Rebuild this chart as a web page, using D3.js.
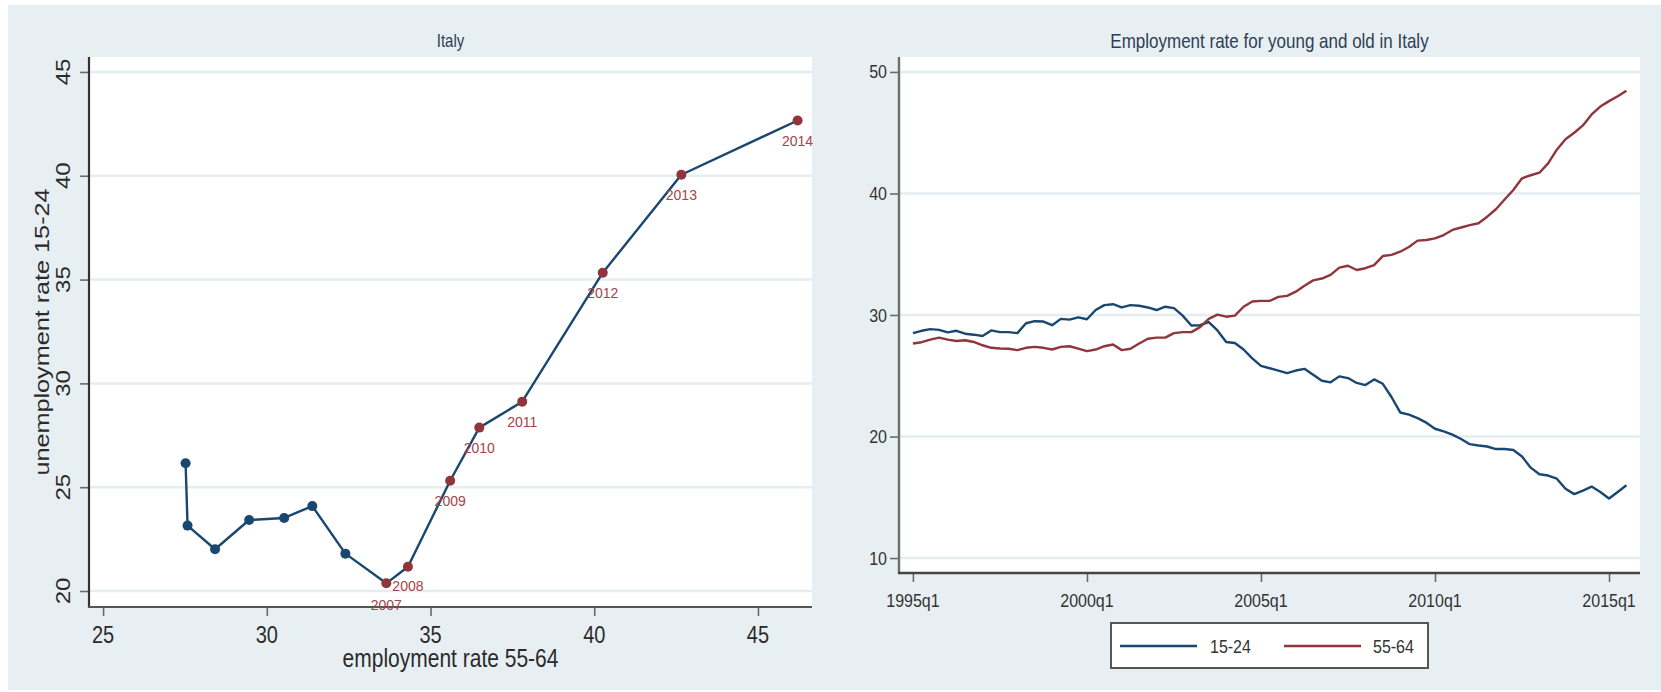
<!DOCTYPE html>
<html>
<head>
<meta charset="utf-8">
<script src="https://cdn.jsdelivr.net/npm/d3@7"></script>
<style>
  html, body { margin: 0; padding: 0; background: #ffffff; }
  svg { display: block; font-family: "Liberation Sans", Arial, sans-serif; }
</style>
</head>
<body>
<svg id="chart" width="1661" height="692"></svg>
<script>
// ---- Left panel: yearly employment 55-64 vs unemployment 15-24 ----
const years = [2000, 2001, 2002, 2003, 2004, 2005, 2006, 2007, 2008, 2009, 2010, 2011, 2012, 2013, 2014];
const emp5564 = [27.52, 27.58, 28.42, 29.46, 30.53, 31.39, 32.40, 33.65, 34.31, 35.60, 36.49, 37.80, 40.26, 42.66, 46.21];
const unemp1524 = [26.15, 23.15, 22.01, 23.42, 23.52, 24.09, 21.80, 20.37, 21.17, 25.31, 27.87, 29.12, 35.33, 40.05, 42.66];
const labelledFrom = 2007;
const leftXTicks = [25, 30, 35, 40, 45];
const leftYTicks = [20, 25, 30, 35, 40, 45];

// ---- Right panel: quarterly employment rates, 1995q1 onwards ----
const startYear = 1995;
const young1524 = [
  28.51, 28.70, 28.84, 28.78, 28.57, 28.70, 28.46, 28.38, 28.27, 28.73,
  28.59, 28.59, 28.51, 29.32, 29.49, 29.46, 29.16, 29.68, 29.62, 29.81,
  29.65, 30.41, 30.81, 30.89, 30.62, 30.81, 30.76, 30.62, 30.41, 30.68,
  30.57, 29.95, 29.14, 29.16, 29.41, 28.73, 27.78, 27.70, 27.16, 26.43,
  25.81, 25.62, 25.43, 25.22, 25.43, 25.57, 25.08, 24.59, 24.46, 24.95,
  24.81, 24.41, 24.23, 24.70, 24.34, 23.25, 21.98, 21.80, 21.51, 21.14,
  20.64, 20.42, 20.16, 19.80, 19.37, 19.26, 19.18, 18.97, 18.97, 18.89,
  18.35, 17.44, 16.90, 16.79, 16.53, 15.70, 15.26, 15.55, 15.88, 15.44,
  14.90, 15.44, 15.99
];
const old5564 = [
  27.65, 27.76, 27.97, 28.14, 27.97, 27.86, 27.92, 27.78, 27.51, 27.30,
  27.24, 27.22, 27.11, 27.30, 27.38, 27.30, 27.16, 27.38, 27.43, 27.24,
  27.03, 27.16, 27.43, 27.57, 27.11, 27.22, 27.65, 28.05, 28.14, 28.14,
  28.51, 28.59, 28.59, 29.00, 29.68, 30.03, 29.86, 29.95, 30.68, 31.11,
  31.16, 31.16, 31.49, 31.57, 31.92, 32.40, 32.85, 33.00, 33.30, 33.90,
  34.05, 33.70, 33.85, 34.10, 34.85, 34.95, 35.21, 35.60, 36.12, 36.17,
  36.30, 36.58, 37.00, 37.20, 37.40, 37.55, 38.09, 38.70, 39.50, 40.29,
  41.25, 41.50, 41.71, 42.48, 43.60, 44.46, 45.00, 45.60, 46.50, 47.15,
  47.60, 48.00, 48.46
];
const rightXTicks = [0, 20, 40, 60, 80];
const rightYTicks = [10, 20, 30, 40, 50];
const seriesNames = ["15-24", "55-64"];

const NAVY = "#1a476f", MAROON = "#90353b";
const BG = "#e8eff2", GRID = "#e4edf0", INK = "#2b2b2b";
const STRETCH = 1.2;

const svg = d3.select("#chart");
svg.append("rect").attr("x", 8).attr("y", 5).attr("width", 1653).attr("height", 685).attr("fill", BG);

// horizontal text, vertically stretched, centred on (x, y)
function htext(g, x, y, str, size, anchor, color, stretch) {
  return g.append("text")
    .attr("transform", `translate(${x},${y}) scale(1,${stretch || STRETCH})`)
    .attr("text-anchor", anchor || "middle")
    .attr("dominant-baseline", "central")
    .attr("font-size", size)
    .attr("fill", color || INK)
    .text(str);
}
// vertical text reading upwards, stretched along its baseline
function vtext(g, x, y, str, size, color) {
  return g.append("text")
    .attr("transform", `translate(${x},${y}) rotate(-90) scale(${STRETCH},1)`)
    .attr("text-anchor", "middle")
    .attr("dominant-baseline", "central")
    .attr("font-size", size)
    .attr("fill", color || INK)
    .text(str);
}

// ================= Left panel =================
{
  const L = { left: 89, right: 812, top: 57, bottom: 607 };
  const x = d3.scaleLinear().domain([24.57, 46.65]).range([L.left, L.right]);
  const y = d3.scaleLinear().domain([19.23, 45.72]).range([L.bottom, L.top]);
  const g = svg.append("g");

  g.append("rect").attr("x", L.left).attr("y", L.top)
    .attr("width", L.right - L.left).attr("height", L.bottom - L.top).attr("fill", "#fff");

  g.append("g").selectAll("line").data(leftYTicks).join("line")
    .attr("x1", L.left).attr("x2", L.right)
    .attr("y1", d => y(d)).attr("y2", d => y(d))
    .attr("stroke", GRID).attr("stroke-width", 2.5);

  const xAxis = g.append("g").attr("transform", `translate(0,${L.bottom})`)
    .call(d3.axisBottom(x).tickValues(leftXTicks).tickSize(9).tickSizeOuter(0).tickFormat(""));
  xAxis.select(".domain").remove();
  xAxis.selectAll(".tick line").attr("stroke", "#6a6a6a").attr("stroke-width", 1.6);
  const yAxis = g.append("g").attr("transform", `translate(${L.left},0)`)
    .call(d3.axisLeft(y).tickValues(leftYTicks).tickSize(9).tickSizeOuter(0).tickFormat(""));
  yAxis.select(".domain").remove();
  yAxis.selectAll(".tick line").attr("stroke", "#6a6a6a").attr("stroke-width", 1.6);

  g.append("line").attr("x1", L.left).attr("x2", L.left).attr("y1", L.top).attr("y2", L.bottom + 1)
    .attr("stroke", "#333").attr("stroke-width", 2.2);
  g.append("line").attr("x1", L.left - 1).attr("x2", L.right).attr("y1", L.bottom).attr("y2", L.bottom)
    .attr("stroke", "#555").attr("stroke-width", 2.2);

  leftXTicks.forEach(t => htext(g, x(t), 635, String(t), 20));
  leftYTicks.forEach(t => vtext(g, 63, y(t), String(t), 20));

  htext(g, (L.left + L.right) / 2, 658, "employment rate 55-64", 21);
  vtext(g, 42, 332, "unemployment rate 15-24", 21);
  htext(g, (L.left + L.right) / 2, 41, "Italy", 15, "middle", "#2d3e55");

  const pts = years.map((yr, i) => ({ yr, ex: emp5564[i], un: unemp1524[i] }));
  g.append("path").datum(pts)
    .attr("d", d3.line().x(d => x(d.ex)).y(d => y(d.un)))
    .attr("fill", "none").attr("stroke", NAVY).attr("stroke-width", 2.4).attr("stroke-linejoin", "round");

  g.append("g").selectAll("circle").data(pts).join("circle")
    .attr("cx", d => x(d.ex)).attr("cy", d => y(d.un)).attr("r", 5)
    .attr("fill", d => d.yr >= labelledFrom ? MAROON : NAVY);

  // year labels sit just below each marker; the two crowded ones at the trough are spread apart
  const labelDrop = { 2007: 22, 2008: 19 };
  pts.filter(d => d.yr >= labelledFrom).forEach(d =>
    htext(g, x(d.ex), y(d.un) + (labelDrop[d.yr] || 20.5), String(d.yr), 14, "middle", "#a3434b", 1));
}

// ================= Right panel =================
{
  const R = { left: 899, right: 1640, top: 57, bottom: 573 };
  const x = d3.scaleLinear().domain([-1.6, 83.56]).range([R.left, R.right]);
  const y = d3.scaleLinear().domain([8.77, 51.23]).range([R.bottom, R.top]);
  const g = svg.append("g");

  g.append("rect").attr("x", R.left).attr("y", R.top)
    .attr("width", R.right - R.left).attr("height", R.bottom - R.top).attr("fill", "#fff");

  g.append("g").selectAll("line").data(rightYTicks).join("line")
    .attr("x1", R.left).attr("x2", R.right)
    .attr("y1", d => y(d)).attr("y2", d => y(d))
    .attr("stroke", GRID).attr("stroke-width", 2.5);

  const xAxis = g.append("g").attr("transform", `translate(0,${R.bottom})`)
    .call(d3.axisBottom(x).tickValues(rightXTicks).tickSize(9).tickSizeOuter(0).tickFormat(""));
  xAxis.select(".domain").remove();
  xAxis.selectAll(".tick line").attr("stroke", "#6a6a6a").attr("stroke-width", 1.6);
  const yAxis = g.append("g").attr("transform", `translate(${R.left},0)`)
    .call(d3.axisLeft(y).tickValues(rightYTicks).tickSize(9).tickSizeOuter(0).tickFormat(""));
  yAxis.select(".domain").remove();
  yAxis.selectAll(".tick line").attr("stroke", "#6a6a6a").attr("stroke-width", 1.6);

  g.append("line").attr("x1", R.left).attr("x2", R.left).attr("y1", R.top).attr("y2", R.bottom + 1)
    .attr("stroke", "#6e6e6e").attr("stroke-width", 2.4);
  g.append("line").attr("x1", R.left - 1).attr("x2", R.right).attr("y1", R.bottom).attr("y2", R.bottom)
    .attr("stroke", "#444").attr("stroke-width", 2.4);

  const qLabel = q => `${startYear + Math.floor(q / 4)}q${q % 4 + 1}`;
  rightXTicks.forEach(t => htext(g, x(t), 600, qLabel(t), 16, "middle", "#333"));
  rightYTicks.forEach(t => htext(g, 887, y(t), String(t), 16, "end", "#333"));

  htext(g, (R.left + R.right) / 2, 41, "Employment rate for young and old in Italy", 17, "middle", "#2d3e55");

  const line = d3.line().x((d, i) => x(i)).y(d => y(d));
  [[young1524, NAVY], [old5564, MAROON]].forEach(([vals, col]) =>
    g.append("path").datum(vals).attr("d", line)
      .attr("fill", "none").attr("stroke", col).attr("stroke-width", 2.4).attr("stroke-linejoin", "round"));

  // legend
  const lg = g.append("g");
  lg.append("rect").attr("x", 1111).attr("y", 623).attr("width", 317).attr("height", 45)
    .attr("fill", "#fff").attr("stroke", "#555").attr("stroke-width", 2);
  [[1120, 1210, NAVY], [1284, 1373, MAROON]].forEach(([lx, tx, col], i) => {
    lg.append("line").attr("x1", lx).attr("x2", lx + 77).attr("y1", 646).attr("y2", 646)
      .attr("stroke", col).attr("stroke-width", 2.4);
    htext(lg, tx, 646, seriesNames[i], 16, "start", "#333");
  });
}
</script>
</body>
</html>
